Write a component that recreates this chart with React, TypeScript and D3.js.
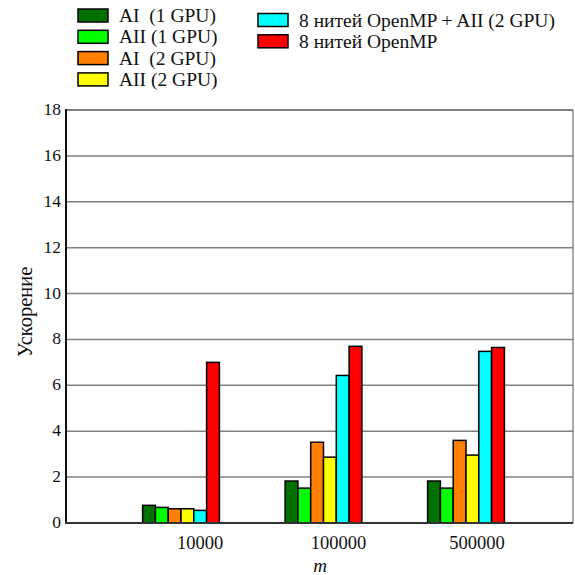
import React from "react";
import * as d3 from "d3";

const categories = ["10000", "100000", "500000"];
const seriesNames = [
  "AI  (1 GPU)",
  "AII (1 GPU)",
  "AI  (2 GPU)",
  "AII (2 GPU)",
  "8 нитей OpenMP + AII (2 GPU)",
  "8 нитей OpenMP",
];
const seriesColors = ["#007000", "#00ff00", "#ff8000", "#ffff00", "#00ffff", "#ff0000"];
const aI1 = [0.77, 1.83, 1.83];
const aII1 = [0.68, 1.52, 1.52];
const aI2 = [0.62, 3.52, 3.6];
const aII2 = [0.62, 2.87, 2.96];
const omp8aII2 = [0.55, 6.43, 7.48];
const omp8 = [7.0, 7.7, 7.65];
const seriesValues = [aI1, aII1, aI2, aII2, omp8aII2, omp8];
const yTicks = [0, 2, 4, 6, 8, 10, 12, 14, 16, 18];

export default function App() {
  const W = 575, H = 575;
  const left = 66, right = 573, top = 110, bottom = 523;
  const y = d3.scaleLinear().domain([0, 18]).range([bottom, top]);
  const groupX = d3.scalePoint<string>().domain(categories).range([181, 466]);
  const labelX = d3.scalePoint<string>().domain(categories).range([200, 477]);
  const barW = 12.8;
  const inner = d3
    .scaleBand<number>()
    .domain(d3.range(seriesNames.length))
    .range([-barW * 3, barW * 3]);
  const font = '"Liberation Serif", "Times New Roman", serif';
  const legendCols = [
    { items: [0, 1, 2, 3], x: 78, y0: 9 },
    { items: [4, 5], x: 258, y0: 13.5 },
  ];
  return (
    <svg width={W} height={H} style={{ position: "absolute", left: 0, top: 0, fontFamily: font }}>
      <rect x={0} y={0} width={W} height={H} fill="#fff" />
      {yTicks.slice(1).map((t) => (
        <line key={t} x1={left} x2={right} y1={y(t)} y2={y(t)} stroke={t === 18 ? "#555" : "#808080"} strokeWidth={1.5} />
      ))}
      <line x1={right} x2={right} y1={top} y2={bottom} stroke="#555" strokeWidth={1} />
      {categories.map((c, ci) => (
        <g key={c}>
          {seriesValues.map((vals, si) => (
            <rect
              key={si}
              x={(groupX(c) as number) + (inner(si) as number)}
              y={y(vals[ci])}
              width={inner.bandwidth()}
              height={bottom - y(vals[ci])}
              fill={seriesColors[si]}
              stroke="#000"
              strokeWidth={1.5}
            />
          ))}
        </g>
      ))}
      <line x1={left} x2={left} y1={top - 1} y2={bottom + 1} stroke="#111" strokeWidth={2} />
      <line x1={left - 1} x2={right} y1={bottom} y2={bottom} stroke="#333" strokeWidth={2} />
      {yTicks.map((t) => (
        <text key={t} x={61} y={y(t) + 5} textAnchor="end" fontSize={17.5} fill="#111" style={{ fontFamily: font }}>
          {t}
        </text>
      ))}
      {categories.map((c) => (
        <text key={c} x={labelX(c) as number} y={549} textAnchor="middle" fontSize={18.5} fill="#111" style={{ fontFamily: font }}>
          {c}
        </text>
      ))}
      <text x={320} y={572} textAnchor="middle" fontSize={19} fontStyle="italic" fill="#111" style={{ fontFamily: font }}>
        m
      </text>
      <text
        transform={`translate(32, 312) rotate(-90)`}
        textAnchor="middle"
        fontSize={20.5}
        fill="#111"
        style={{ fontFamily: font }}
      >
        Ускорение
      </text>
      {legendCols.map((col, k) => (
        <g key={k}>
          {col.items.map((si, j) => (
            <g key={si} transform={`translate(${col.x}, ${col.y0 + j * 21.3})`}>
              <rect x={0} y={0} width={30} height={13} fill={seriesColors[si]} stroke="#000" strokeWidth={1.5} />
              <text x={41} y={13} fontSize={19.5} fill="#111" style={{ whiteSpace: "pre", fontFamily: font }}>
                {seriesNames[si]}
              </text>
            </g>
          ))}
        </g>
      ))}
    </svg>
  );
}
